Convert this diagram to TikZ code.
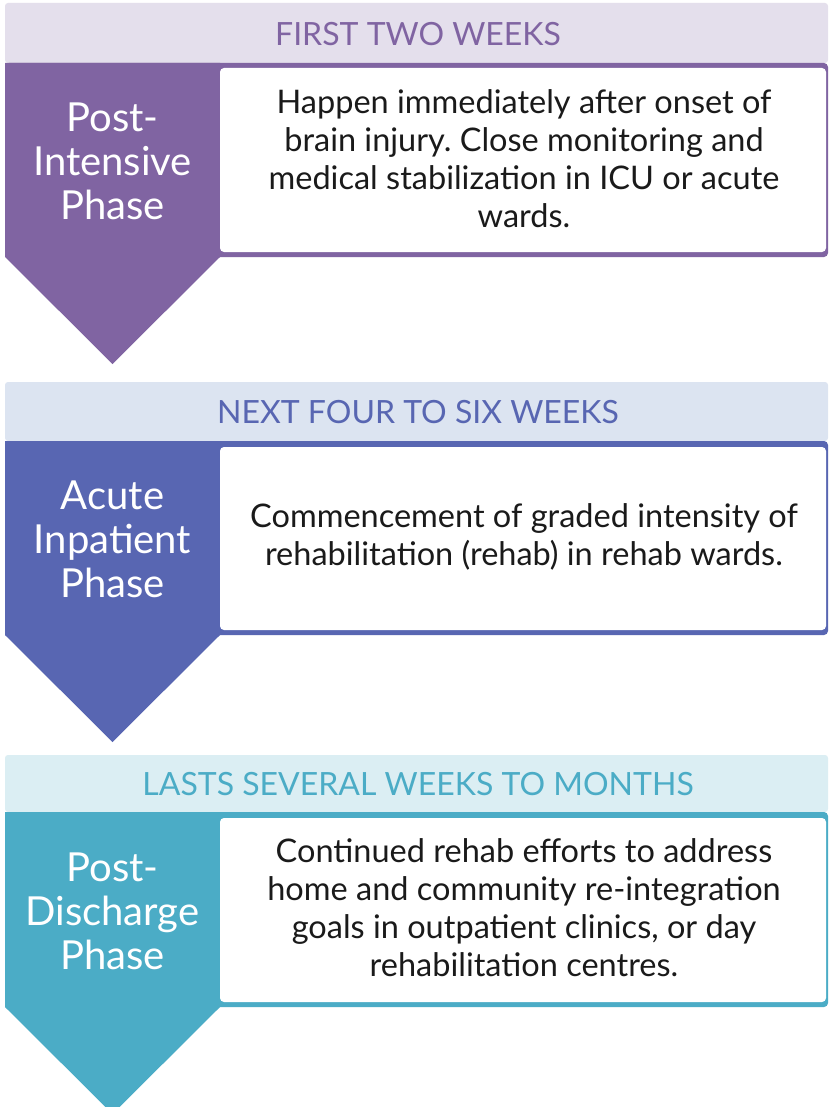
\documentclass[tikz,border=0pt]{standalone}
\usepackage{fontspec}
\setmainfont{Lato}
\frenchspacing
\begin{document}
\definecolor{purpleD}{HTML}{8064A2}
\definecolor{purpleL}{HTML}{E4DFEC}
\definecolor{blueD}{HTML}{5866B2}
\definecolor{blueL}{HTML}{DCE4F1}
\definecolor{tealD}{HTML}{4BACC6}
\definecolor{tealL}{HTML}{DBEEF3}
\definecolor{bodytxt}{HTML}{1A1A1A}
\begin{tikzpicture}[x=1pt,y=-1pt,
  headtxt/.style={font=\fontsize{32}{34}\selectfont, inner sep=0pt},
  phasetxt/.style={font=\fontsize{40}{44}\selectfont, text=white, align=center, inner sep=0pt},
  bodytext/.style={font=\fontsize{32.5}{38}\selectfont, text=bodytxt, align=center, inner sep=0pt},
  card/.style={fill=white, rounded corners=4pt}]
\path[use as bounding box, clip] (0,0) rectangle (828,1107);
\fill[white] (0,0) rectangle (828,1107);

% ---- Phase 1: post-intensive ----
\fill[purpleL, rounded corners=3pt] (5,3) rectangle (828,63);
\fill[purpleD, rounded corners=4pt] (5,63) rectangle (828,257);
\fill[purpleD] (5,63) -- (220,63) -- (220,257) -- (112.5,364) -- (5,257) -- cycle;
\fill[card] (220,68) rectangle (826,252);
\node[headtxt, text=purpleD] (h1) at (418,34) {FIRST TWO WEEKS};
\node[phasetxt] (p1) at (112.5,161) {Post-\\Intensive\\Phase};
\node[bodytext] (b1) at (524,159) {Happen immediately after onset of\\brain injury. Close monitoring and\\medical stabilization in ICU or acute\\wards.};

% ---- Phase 2: acute inpatient ----
\fill[blueL, rounded corners=3pt] (5,382) rectangle (828,441);
\fill[blueD, rounded corners=4pt] (5,441) rectangle (828,635);
\fill[blueD] (5,441) -- (220,441) -- (220,635) -- (112.5,742) -- (5,635) -- cycle;
\fill[card] (220,447) rectangle (826,630);
\node[headtxt, text=blueD] (h2) at (418,412) {NEXT FOUR TO SIX WEEKS};
\node[phasetxt] (p2) at (112.5,539) {Acute\\Inpatient\\Phase};
\node[bodytext] (b2) at (524,537) {Commencement of graded intensity of\\rehabilitation (rehab) in rehab wards.};

% ---- Phase 3: post-discharge ----
\fill[tealL, rounded corners=3pt] (5,755) rectangle (828,812);
\fill[tealD, rounded corners=4pt] (5,812) rectangle (828,1007);
\fill[tealD] (5,812) -- (220,812) -- (220,1007) -- (112.5,1114) -- (5,1007) -- cycle;
\fill[card] (220,818) rectangle (826,1002);
\node[headtxt, text=tealD] (h3) at (418,784) {LASTS SEVERAL WEEKS TO MONTHS};
\node[phasetxt] (p3) at (112.5,911) {Post-\\Discharge\\Phase};
\node[bodytext] (b3) at (524,908) {Continued rehab efforts to address\\home and community re-integration\\goals in outpatient clinics, or day\\rehabilitation centres.};
\end{tikzpicture}
\end{document}
